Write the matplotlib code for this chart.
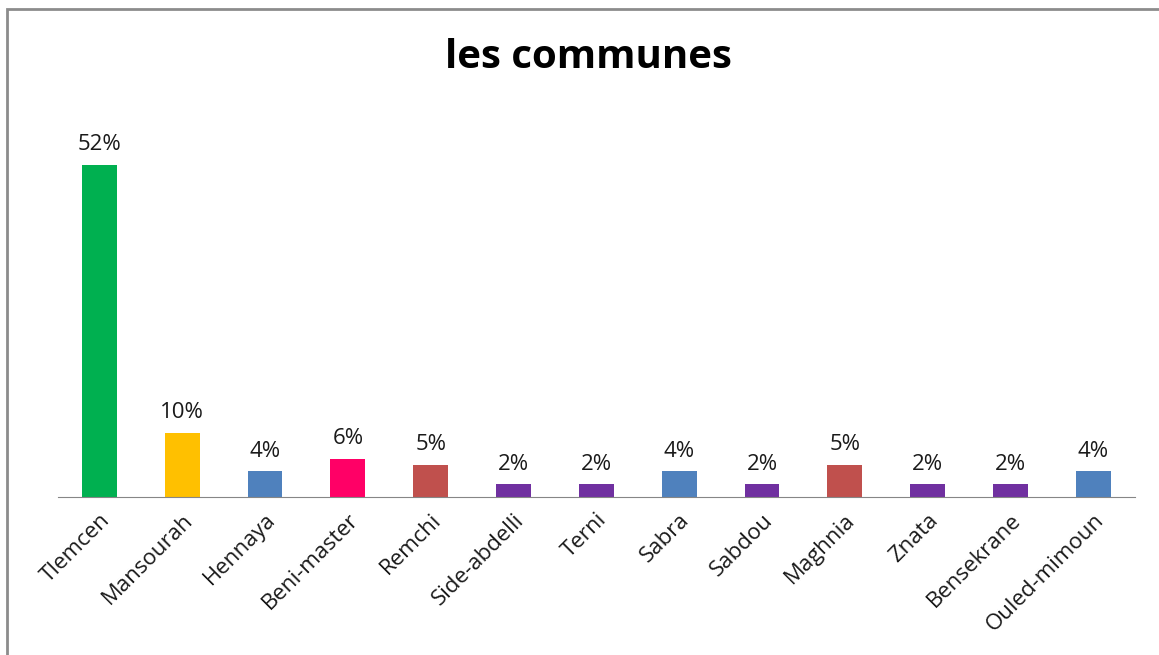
import matplotlib.pyplot as plt
from matplotlib.patches import Rectangle

# Répartition par commune (en %)
communes = ["Tlemcen", "Mansourah", "Hennaya", "Beni-master", "Remchi",
            "Side-abdelli", "Terni", "Sabra", "Sabdou", "Maghnia",
            "Znata", "Bensekrane", "Ouled-mimoun"]
pourcentages = [52, 10, 4, 6, 5, 2, 2, 4, 2, 5, 2, 2, 4]
couleurs = ["#00B050", "#FFC000", "#4F81BD", "#FF0066", "#C0504D",
            "#7030A0", "#7030A0", "#4F81BD", "#7030A0", "#C0504D",
            "#7030A0", "#7030A0", "#4F81BD"]

plt.rcParams['font.family'] = ['Open Sans', 'DejaVu Sans']

fig = plt.figure(figsize=(11.59, 6.55), dpi=100)
ax = fig.add_axes([0.05, 0.2412, 0.929, 0.585])

x = range(len(communes))
barres = ax.bar(x, pourcentages, width=0.42, color=couleurs)

# Étiquettes de valeur au-dessus des barres
for b, v in zip(barres, pourcentages):
    ax.annotate(f"{v}%", (b.get_x() + b.get_width() / 2, v),
                xytext=(0, 7), textcoords="offset points",
                ha="center", va="bottom", fontsize=16, color="#1a1a1a")

ax.set_xlim(-0.5, len(communes) - 0.5)
ax.set_ylim(0, 60)
ax.set_xticks(list(x))
ax.set_xticklabels(communes, rotation=45, ha="right", rotation_mode="anchor",
                   fontsize=16, color="#1a1a1a")
ax.tick_params(axis="x", length=0, pad=9)
ax.set_yticks([])
for cote in ["top", "right", "left"]:
    ax.spines[cote].set_visible(False)
ax.spines["bottom"].set_color("#868686")

fig.text(0.508, 0.912, "les communes", ha="center", va="center",
         fontsize=29, fontweight="bold")

# Cadre gris du graphique
fig.patches.append(Rectangle((0.006, -0.1), 1.2, 1.086, transform=fig.transFigure,
                             fill=False, edgecolor="#8c8c8c", linewidth=2))

fig.savefig("out.png", dpi=100)
